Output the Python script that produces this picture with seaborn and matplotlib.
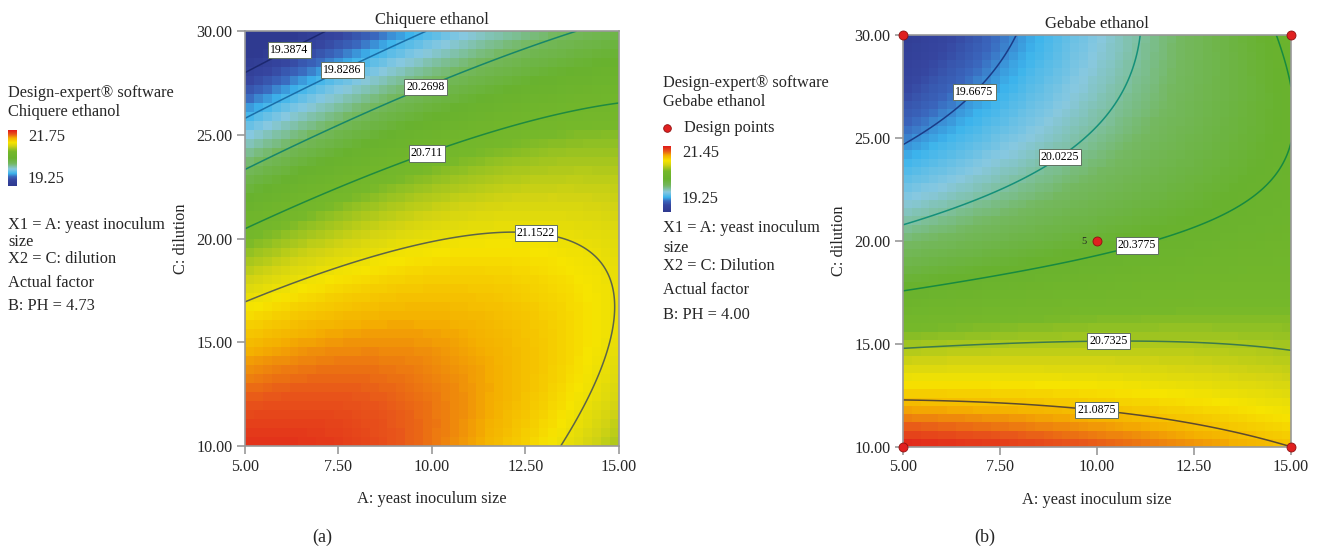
import numpy as np
import matplotlib
matplotlib.use("Agg")
import matplotlib.pyplot as plt
import seaborn as sns
from matplotlib.colors import LinearSegmentedColormap

# ---------------- data ----------------
a_ticks = [5.0, 7.5, 10.0, 12.5, 15.0]
c_ticks = [10.0, 15.0, 20.0, 25.0, 30.0]

# coded quadratic response-surface terms: [intercept, A, C, AC, A^2, C^2]
chiquere_coef = [21.14, 0.16, -0.83, 0.54, -0.203, -0.46]
gebabe_coef = [20.327, 0.186, -0.70, 0.3625, -0.037, 0.275]

chiquere_levels = [19.3874, 19.8286, 20.2698, 20.711, 21.1522]
gebabe_levels = [19.6675, 20.0225, 20.3775, 20.7325, 21.0875]
chiquere_range = [19.25, 21.75]
gebabe_range = [19.25, 21.45]

design_A = [5.0, 15.0, 5.0, 15.0, 10.0]
design_C = [30.0, 30.0, 10.0, 10.0, 20.0]
design_count = ["", "", "", "", "5"]

# ---------------- style ----------------
sns.set_theme(style="white")
plt.rcParams["font.family"] = ["Liberation Serif", "DejaVu Serif"]

cmap = LinearSegmentedColormap.from_list("dx", [
    (0.00, "#2f3a90"), (0.10, "#3646a0"), (0.16, "#3a66bc"), (0.22, "#3cb4ec"),
    (0.30, "#88c8e0"), (0.40, "#74b860"), (0.50, "#68b22e"), (0.62, "#76b82a"),
    (0.72, "#d4d412"), (0.78, "#f6e400"), (0.86, "#f4b000"), (0.93, "#e8561a"),
    (1.00, "#e01c1a")])


def model(coef, A, C):
    a = (A - 10.0) / 5.0
    c = (C - 20.0) / 10.0
    b0, b1, b2, b12, b11, b22 = coef
    return b0 + b1 * a + b2 * c + b12 * a * c + b11 * a * a + b22 * c * c


fig = plt.figure(figsize=(13.2, 5.5), dpi=100)
TFS = 11.6


def panel(rect, coef, levels, vrange, line_colors, title, label_pos, nA, nC):
    ax = fig.add_axes(rect)
    eA = np.linspace(5, 15, nA + 1)
    eC = np.linspace(10, 30, nC + 1)
    cA = (eA[:-1] + eA[1:]) / 2
    cC = (eC[:-1] + eC[1:]) / 2
    GA, GC = np.meshgrid(cA, cC)
    Z = model(coef, GA, GC)
    ax.pcolormesh(eA, eC, Z, cmap=cmap, vmin=vrange[0], vmax=vrange[1],
                  shading="flat", rasterized=True)
    fA, fC = np.meshgrid(np.linspace(5, 15, 300), np.linspace(10, 30, 300))
    Zf = model(coef, fA, fC)
    cs = ax.contour(fA, fC, Zf, levels=levels, colors=line_colors, linewidths=1.1)
    texts = ax.clabel(cs, levels, inline=False, fontsize=8.5,
                      fmt=lambda v: f"{v:g}", manual=label_pos)
    for t in texts:
        t.set_color("black")
        t.set_rotation(0)
        t.set_bbox(dict(boxstyle="square,pad=0.18", fc="white", ec="#607060", lw=0.7))
    ax.set_xlim(5, 15)
    ax.set_ylim(10, 30)
    ax.set_xticks(a_ticks)
    ax.set_yticks(c_ticks)
    ax.set_xticklabels([f"{v:.2f}" for v in a_ticks], fontsize=TFS)
    ax.set_yticklabels([f"{v:.2f}" for v in c_ticks], fontsize=TFS)
    ax.tick_params(axis="both", which="both", direction="out", length=6,
                   width=1.2, color="#999999", pad=3, bottom=True, left=True)
    for s in ax.spines.values():
        s.set_color("#999999")
        s.set_linewidth(1.2)
    ax.set_title(title, fontsize=12, pad=5)
    ax.set_xlabel("A: yeast inoculum size", fontsize=11.8, labelpad=12)
    ax.set_ylabel("C: dilution", fontsize=11.8, labelpad=5)
    return ax


ax1 = panel([0.1856, 0.189, 0.2833, 0.7545], chiquere_coef, chiquere_levels,
            chiquere_range, ["#1c2870", "#1a6ea8", "#17866a", "#1f8a40", "#5c6448"],
            "Chiquere ethanol",
            [(6.1, 29.4), (7.5, 28.5), (9.8, 27.4), (9.8, 24.4), (12.8, 20.6)], 42, 46)

ax2 = panel([0.684, 0.1873, 0.294, 0.749], gebabe_coef, gebabe_levels,
            gebabe_range, ["#1a3c88", "#14907a", "#178a40", "#3c7a4c", "#5c4a30"],
            "Gebabe ethanol",
            [(6.75, 27.4), (9.0, 24.2), (11.0, 20.0), (10.3, 15.2), (10.0, 11.9)], 44, 50)

sns.scatterplot(x=design_A, y=design_C, ax=ax2, color="#e02020", edgecolor="#901010",
                linewidth=0.6, s=42, zorder=6, clip_on=False, legend=False)
for x, y, t in zip(design_A, design_C, design_count):
    if t:
        ax2.annotate(t, (x, y), xytext=(-9, 0), textcoords="offset points",
                     fontsize=7.5, ha="center", va="center")

# ---------------- side legends ----------------
def px(x, y):
    return x / 1320.0, 1 - y / 550.0


def colorbar(rect):
    cax = fig.add_axes(rect)
    cax.imshow(np.linspace(1, 0, 100)[:, None], aspect="auto", cmap=cmap,
               vmin=0, vmax=1)
    cax.set_axis_off()


fs = 11.8
colorbar([8 / 1320, (550 - 186) / 550, 9 / 1320, 56 / 550])
for (x, y, s) in [(8, 93, "Design-expert® software"), (8, 112, "Chiquere ethanol"),
                  (28, 137, "21.75"), (28, 179, "19.25"),
                  (8, 225, "X1 = A: yeast inoculum"), (8, 242, "size"),
                  (8, 259, "X2 = C: dilution"), (8, 283, "Actual factor"),
                  (8, 306, "B: PH = 4.73")]:
    fig.text(*px(x, y), s, fontsize=fs, ha="left", va="center")

colorbar([663 / 1320, (550 - 212) / 550, 8 / 1320, 66 / 550])
fig.lines.append(plt.Line2D([667 / 1320], [1 - 128 / 550], transform=fig.transFigure,
                            marker="o", ms=5.5, color="#e02020", mec="#901010", mew=0.6))
for (x, y, s) in [(663, 83, "Design-expert® software"), (663, 102, "Gebabe ethanol"),
                  (684, 128, "Design points"),
                  (682, 153, "21.45"), (682, 199, "19.25"),
                  (663, 228, "X1 = A: yeast inoculum"), (663, 248, "size"),
                  (663, 266, "X2 = C: Dilution"), (663, 290, "Actual factor"),
                  (663, 315, "B: PH = 4.00")]:
    fig.text(*px(x, y), s, fontsize=fs, ha="left", va="center")

fig.text(*px(322, 537), "(a)", fontsize=13, ha="center", va="center")
fig.text(*px(985, 537), "(b)", fontsize=13, ha="center", va="center")

fig.savefig("out.png", dpi=100)
